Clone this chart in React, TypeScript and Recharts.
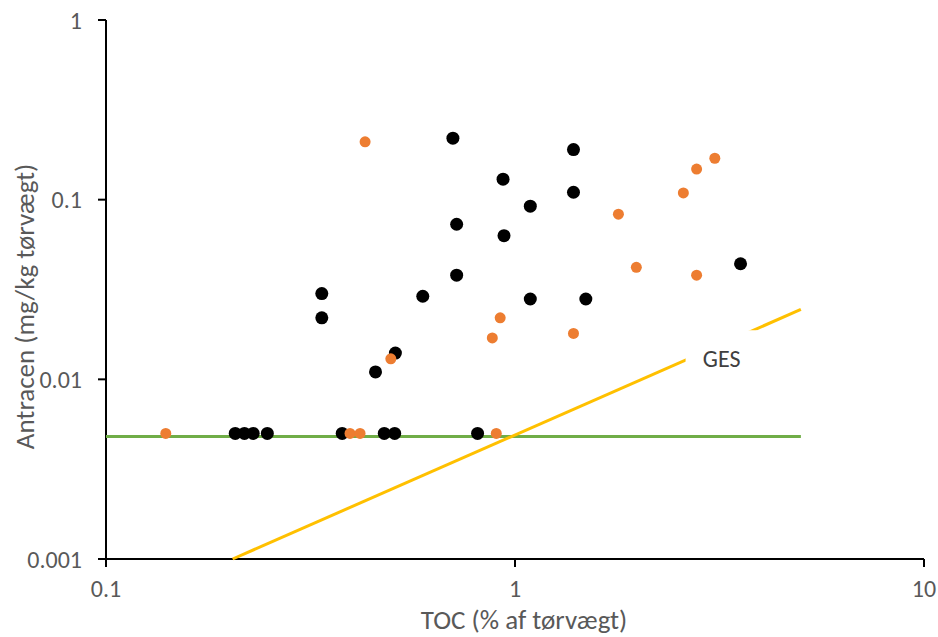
import { ComposedChart, Scatter, XAxis, YAxis, ReferenceDot } from 'recharts'

// TOC (% af tørvægt) og antracen (mg/kg tørvægt)
const blackToc = [0.207, 0.218, 0.229, 0.248, 0.337, 0.337, 0.378, 0.456, 0.479, 0.508, 0.51, 0.595, 0.705, 0.72, 0.72, 0.81, 0.935, 0.94, 1.09, 1.09, 1.39, 1.39, 1.49, 3.56]
const blackAnt = [0.005, 0.005, 0.005, 0.005, 0.03, 0.022, 0.005, 0.011, 0.005, 0.005, 0.014, 0.029, 0.22, 0.073, 0.038, 0.005, 0.13, 0.063, 0.092, 0.028, 0.19, 0.11, 0.028, 0.044]

const orangeToc = [0.14, 0.395, 0.418, 0.43, 0.497, 0.88, 0.9, 0.92, 1.39, 1.79, 1.98, 2.58, 2.78, 2.78, 3.08]
const orangeAnt = [0.005, 0.005, 0.005, 0.21, 0.013, 0.017, 0.005, 0.022, 0.018, 0.083, 0.042, 0.109, 0.148, 0.038, 0.17]

// detektionsgrænse (grøn) og GES-linje (gul)
const limitToc = [0.1, 5]
const limitAnt = [0.0048, 0.0048]
const gesToc = [0.204, 5]
const gesAnt = [0.001, 0.0245]
const gesLabel = { toc: 3.2, ant: 0.0131, text: 'GES' }

const xTicks = [0.1, 1, 10]
const yTicks = [0.001, 0.01, 0.1, 1]

const zip = (xs: number[], ys: number[]) => xs.map((x, i) => ({ toc: x, ant: ys[i] }))

const FONT = 'Carlito, Calibri, Lato, sans-serif'
const GREY = '#595959'

const blackDot = (p: any) => <circle cx={p.cx} cy={p.cy} r={6.5} fill="#000" />
const orangeDot = (p: any) => <circle cx={p.cx} cy={p.cy} r={5.5} fill="#ED7D31" />
const noDot = () => <g />

const fmt = (v: number) => String(v)

export default function App() {
  return (
    <div style={{ position: 'absolute', left: 0, top: 0, background: '#fff' }}>
      <ComposedChart width={938} height={637} margin={{ top: 20, right: 14, bottom: 0, left: 0 }}>
        <XAxis
          dataKey="toc"
          type="number"
          scale="log"
          domain={[0.1, 10]}
          ticks={xTicks}
          tickFormatter={fmt}
          height={78}
          axisLine={{ stroke: '#000', strokeWidth: 2 }}
          tickLine={{ stroke: '#000', strokeWidth: 2 }}
          tickSize={8}
          tickMargin={13}
          tick={{ fill: GREY, fontSize: 24, fontFamily: FONT }}
          label={{
            content: (props: any) => {
              const vb = props.viewBox
              return (
                <text x={vb.x + vb.width / 2 + 9} y={vb.y + 70} textAnchor="middle" fill={GREY} fontSize={27} fontFamily={FONT}>
                  TOC (% af tørvægt)
                </text>
              )
            },
          }}
        />
        <YAxis
          dataKey="ant"
          type="number"
          scale="log"
          domain={[0.001, 1]}
          ticks={yTicks}
          tickFormatter={fmt}
          width={106}
          axisLine={{ stroke: '#000', strokeWidth: 2 }}
          tickLine={{ stroke: '#000', strokeWidth: 2 }}
          tickSize={8}
          tickMargin={16}
          tick={{ fill: GREY, fontSize: 24, fontFamily: FONT }}
          label={{
            content: (props: any) => {
              const vb = props.viewBox
              const cy = vb.y + vb.height / 2 + 17
              return (
                <text x={34} y={cy} transform={`rotate(-90 34 ${cy})`} textAnchor="middle" fill={GREY} fontSize={27} fontFamily={FONT}>
                  Antracen (mg/kg tørvægt)
                </text>
              )
            },
          }}
        />
        <Scatter data={zip(limitToc, limitAnt)} line={{ stroke: '#70AD47', strokeWidth: 3 }} shape={noDot} isAnimationActive={false} />
        <Scatter data={zip(gesToc, gesAnt)} line={{ stroke: '#FFC000', strokeWidth: 3 }} shape={noDot} isAnimationActive={false} />
        <Scatter data={zip(blackToc, blackAnt)} shape={blackDot} isAnimationActive={false} />
        <Scatter data={zip(orangeToc, orangeAnt)} shape={orangeDot} isAnimationActive={false} />
        <ReferenceDot
          x={gesLabel.toc}
          y={gesLabel.ant}
          shape={(p: any) => (
            <g>
              <rect x={p.cx - 36} y={p.cy - 28} width={72} height={57} fill="#fff" />
              <text x={p.cx} y={p.cy + 9} textAnchor="middle" fill="#404040" fontSize={24} fontFamily={FONT}>
                {gesLabel.text}
              </text>
            </g>
          )}
        />
      </ComposedChart>
    </div>
  )
}
